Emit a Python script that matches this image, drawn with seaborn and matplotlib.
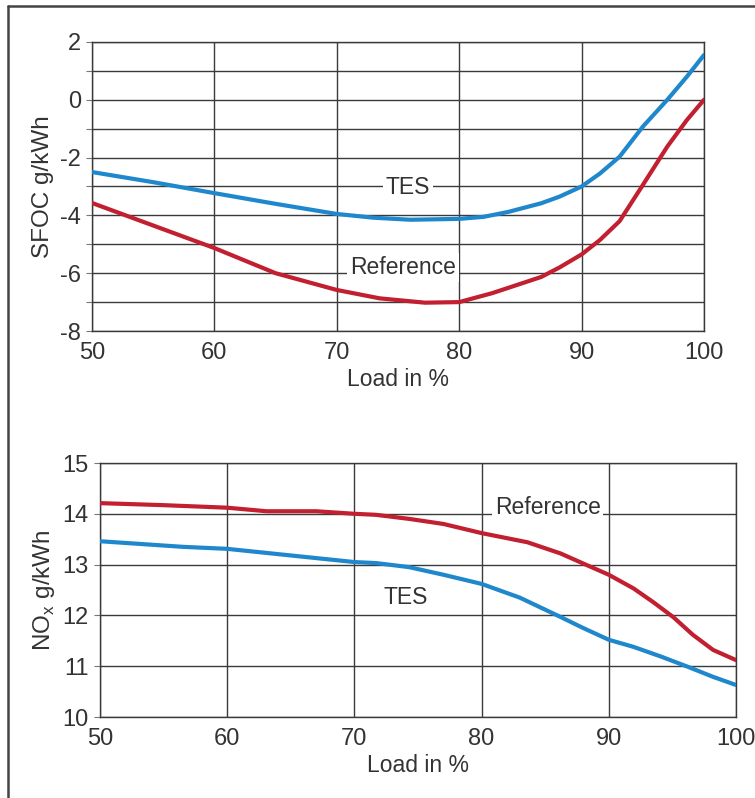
import matplotlib
matplotlib.use("Agg")
import matplotlib.pyplot as plt
import seaborn as sns
import pandas as pd

# Engine load (%) and deviations
sfoc_tes_load = [50, 55, 60, 65, 70, 73, 76, 80, 82, 84, 86.7, 88.2, 90, 91.5, 93.1, 95.0, 97.0, 98.6, 100]
sfoc_tes = [-2.5, -2.85, -3.23, -3.6, -3.95, -4.08, -4.15, -4.12, -4.05, -3.88, -3.58, -3.35, -3.0,
            -2.55, -1.97, -0.93, 0.0, 0.8, 1.55]

sfoc_ref_load = [50, 55, 60, 65, 70, 73.5, 77.2, 80, 82.7, 86.7, 88.2, 90, 91.5, 93.1, 95.0, 97.0, 98.6, 100]
sfoc_ref = [-3.57, -4.35, -5.13, -6.0, -6.58, -6.87, -7.02, -7.0, -6.69, -6.13, -5.8, -5.35, -4.85,
            -4.2, -2.95, -1.62, -0.7, 0.0]

nox_ref_load = [50, 55, 60, 63.1, 67, 70, 71.7, 74.3, 77, 80, 83.6, 86.2, 88.0, 90, 91.95, 93.5,
                95.1, 96.6, 98.2, 100]
nox_ref = [14.21, 14.17, 14.12, 14.05, 14.05, 14.0, 13.98, 13.9, 13.8, 13.62, 13.44, 13.22, 13.02,
           12.8, 12.53, 12.26, 11.96, 11.62, 11.32, 11.12]

nox_tes_load = [50, 56.5, 60, 65, 70, 71.7, 74.3, 77, 80, 83, 86.2, 88.0, 90, 91.95, 94.1, 96.2, 98.2, 100]
nox_tes = [13.46, 13.35, 13.31, 13.18, 13.05, 13.03, 12.95, 12.8, 12.62, 12.35, 11.97, 11.75, 11.52,
           11.38, 11.19, 10.99, 10.79, 10.63]

x_ticks = [50, 60, 70, 80, 90, 100]
sfoc_ticks = list(range(-8, 3))
nox_ticks = [10, 11, 12, 13, 14, 15]

BLUE = "#1f88cc"
RED = "#c21f30"
GRID = "#3a3a3a"
TXT = "#333333"

sns.set_style("white")
plt.rcParams["font.family"] = ["Liberation Sans", "DejaVu Sans"]

fig = plt.figure(figsize=(7.55, 7.98), dpi=100)

# outer frame (top and left edges)
fig.add_artist(plt.Line2D([8 / 755, 8 / 755], [0, 1 - 6 / 798], color="#444444", lw=1.8,
                          transform=fig.transFigure))
fig.add_artist(plt.Line2D([8 / 755, 1], [1 - 6 / 798, 1 - 6 / 798], color="#444444", lw=1.8,
                          transform=fig.transFigure))

ax1 = fig.add_axes([92 / 755, 1 - 331 / 798, 612 / 755, 289 / 798])
ax2 = fig.add_axes([100 / 755, 1 - 717 / 798, 636 / 755, 254 / 798])


def frame(ax, yticks, ylabels, ylim, ylabel):
    ax.set_xlim(50, 100)
    ax.set_ylim(*ylim)
    ax.set_xticks(x_ticks)
    ax.set_xticklabels([str(v) for v in x_ticks])
    ax.set_yticks(yticks)
    ax.set_yticklabels(ylabels)
    ax.grid(True, color=GRID, lw=1.0, zorder=0)
    for s in ax.spines.values():
        s.set_color(GRID)
        s.set_linewidth(1.0)
    ax.tick_params(axis="y", length=4, width=0.8, color="#777777", pad=4,
                   labelsize=17, labelcolor=TXT, left=True)
    ax.tick_params(axis="x", length=0, pad=8, labelsize=17, labelcolor=TXT)
    ax.set_xlabel("Load in %", fontsize=16.5, color=TXT, labelpad=3)
    ax.set_ylabel(ylabel, fontsize=17.5, color=TXT, labelpad=4)
    ax.set_axisbelow(True)


# SFOC panel
df_sfoc = pd.concat([
    pd.DataFrame({"load": sfoc_tes_load, "val": sfoc_tes, "case": "TES"}),
    pd.DataFrame({"load": sfoc_ref_load, "val": sfoc_ref, "case": "Reference"}),
])
sns.lineplot(data=df_sfoc, x="load", y="val", hue="case",
             palette={"TES": BLUE, "Reference": RED}, lw=3.0, ax=ax1,
             legend=False, zorder=3)
frame(ax1, sfoc_ticks, [str(v) if v % 2 == 0 else "" for v in sfoc_ticks], (-8, 2),
      "SFOC g/kWh")

ax1.text(75.8, -3.05, "TES", fontsize=16.5, color=TXT, ha="center", va="center",
         bbox=dict(facecolor="white", edgecolor="none", pad=2), zorder=2)
ax1.text(75.4, -5.8, "Reference", fontsize=16.5, color=TXT, ha="center", va="center",
         bbox=dict(facecolor="white", edgecolor="none", pad=2), zorder=2)

# NOx panel
df_nox = pd.concat([
    pd.DataFrame({"load": nox_tes_load, "val": nox_tes, "case": "TES"}),
    pd.DataFrame({"load": nox_ref_load, "val": nox_ref, "case": "Reference"}),
])
sns.lineplot(data=df_nox, x="load", y="val", hue="case",
             palette={"TES": BLUE, "Reference": RED}, lw=3.0, ax=ax2,
             legend=False, zorder=3)
frame(ax2, nox_ticks, [str(v) for v in nox_ticks], (10, 15),
      "NO$_\\mathregular{x}$ g/kWh")

ax2.text(85.2, 14.13, "Reference", fontsize=16.5, color=TXT, ha="center", va="center",
         bbox=dict(facecolor="white", edgecolor="none", pad=2), zorder=2)
ax2.text(74.0, 12.35, "TES", fontsize=16.5, color=TXT, ha="center", va="center", zorder=2)

fig.savefig("out.png", dpi=100)
